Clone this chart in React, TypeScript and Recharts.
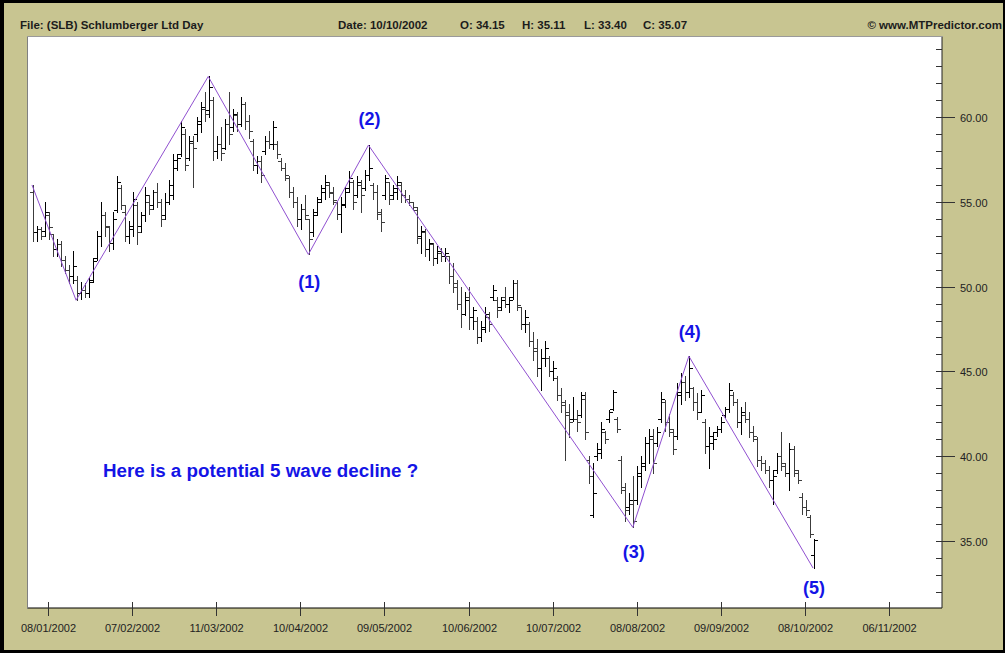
import React from 'react';
import { ComposedChart, Bar, Line, XAxis, YAxis, CartesianGrid, LabelList } from 'recharts';

// Daily OHLC of SLB, 2 Jan 2002 .. 10 Oct 2002 (index = trading day)
const highs = [
  56.0, 53.6, 53.5, 55.0, 54.4, 53.1, 52.8, 52.7, 51.8, 51.3,
  52.1, 50.6, 50.3, 50.2, 50.5, 51.7, 53.3, 55.0, 54.4, 53.6,
  54.4, 56.5, 56.0, 54.8, 53.9, 55.6, 55.0, 54.4, 55.9, 55.4,
  55.7, 56.1, 55.2, 55.5, 56.3, 57.8, 57.8, 59.8, 59.3, 58.9,
  58.9, 60.0, 60.9, 61.5, 62.4, 61.2, 58.9, 59.4, 59.9, 61.5,
  60.5, 60.3, 61.2, 60.9, 60.1, 58.7, 57.7, 57.7, 58.9, 59.2,
  59.8, 58.6, 57.6, 57.3, 56.5, 55.9, 55.3, 54.9, 55.4, 54.0,
  54.6, 55.3, 56.0, 56.6, 56.2, 55.9, 55.0, 55.3, 55.9, 56.8,
  56.3, 56.5, 56.3, 56.9, 58.35, 56.1, 56.0, 54.6, 56.6, 56.2,
  56.0, 56.5, 56.2, 55.7, 55.4, 55.0, 54.7, 53.6, 53.4, 52.8,
  52.6, 52.4, 52.3, 52.3, 51.8, 51.4, 50.4, 50.0, 49.7, 50.0,
  48.8, 48.2, 48.0, 48.8, 48.5, 50.1, 49.4, 49.4, 50.0, 49.4,
  50.4, 50.4, 48.8, 48.6, 47.9, 47.3, 46.9, 46.3, 46.8, 45.9,
  45.6, 44.7, 44.0, 43.3, 43.1, 43.5, 42.7, 43.8, 43.8, 40.0,
  39.6, 40.8, 42.0, 41.5, 42.7, 43.9, 42.3, 40.0, 38.4, 37.8,
  38.8, 39.4, 40.0, 41.1, 41.6, 41.6, 41.7, 43.8, 43.3, 42.5,
  41.6, 44.3, 44.9, 44.7, 45.9, 44.1, 43.7, 43.9, 42.2, 41.7,
  41.4, 41.8, 42.3, 42.9, 44.3, 43.8, 43.4, 42.9, 43.2, 42.6,
  41.8, 41.1, 40.0, 39.8, 39.4, 39.2, 40.2, 41.4, 39.6, 40.8,
  40.6, 39.2, 37.8, 37.4, 36.5, 35.11,
];
const lows = [
  52.7, 52.7, 52.8, 53.0, 52.8, 51.8, 51.8, 51.2, 50.8, 50.2,
  50.2, 49.2, 49.3, 49.4, 49.4, 50.3, 51.6, 52.4, 53.0, 52.1,
  52.2, 54.4, 54.6, 52.7, 52.6, 53.0, 52.5, 53.2, 53.9, 54.3,
  54.6, 54.7, 53.6, 54.0, 54.9, 55.2, 56.9, 57.7, 56.9, 57.5,
  55.9, 58.6, 59.1, 59.8, 60.0, 57.5, 57.6, 57.5, 58.1, 58.4,
  59.2, 59.2, 59.5, 59.3, 58.8, 56.9, 56.7, 56.2, 57.8, 58.2,
  58.1, 57.6, 56.9, 56.3, 55.3, 54.7, 53.6, 53.4, 54.0, 51.9,
  53.0, 54.2, 55.0, 55.2, 55.3, 54.9, 54.0, 53.2, 54.7, 55.6,
  54.6, 55.3, 54.4, 55.7, 56.3, 55.2, 54.0, 53.3, 55.2, 54.9,
  55.2, 55.2, 55.0, 55.0, 54.8, 54.6, 52.6, 52.0, 51.8, 51.6,
  51.3, 51.4, 51.5, 51.5, 50.2, 49.7, 48.7, 47.6, 48.3, 47.5,
  47.5, 46.7, 46.8, 47.3, 47.4, 49.2, 48.2, 48.6, 48.8, 48.5,
  49.3, 48.6, 47.5, 47.3, 46.5, 45.7, 44.7, 43.9, 45.3, 44.7,
  44.5, 43.3, 42.6, 39.8, 41.1, 42.1, 41.5, 42.3, 41.0, 38.4,
  36.4, 39.8, 39.9, 40.8, 42.0, 42.7, 41.4, 37.8, 36.2, 36.6,
  35.8, 37.2, 38.2, 39.2, 39.6, 39.0, 40.6, 42.0, 41.5, 41.2,
  40.1, 41.0, 43.1, 43.3, 43.5, 42.7, 42.2, 42.6, 40.2, 39.3,
  40.4, 41.2, 41.4, 42.3, 42.6, 43.0, 41.7, 41.3, 42.0, 41.1,
  40.9, 39.4, 39.2, 39.0, 38.2, 37.2, 39.0, 39.2, 38.8, 38.0,
  38.8, 38.4, 36.6, 36.5, 35.2, 33.40,
];
const opens = [
  55.6, 53.2, 53.4, 53.3, 54.2, 53.1, 52.2, 52.5, 51.6, 51.0,
  50.6, 50.4, 49.6, 49.8, 49.6, 50.4, 51.7, 53.0, 54.2, 53.5,
  52.6, 54.5, 55.8, 54.4, 53.0, 53.4, 54.8, 53.6, 54.2, 55.0,
  54.8, 55.6, 55.0, 54.2, 55.0, 55.4, 57.0, 57.8, 59.0, 57.6,
  58.5, 59.0, 59.6, 60.5, 60.4, 61.0, 58.0, 58.4, 58.2, 59.6,
  59.4, 60.1, 59.6, 60.8, 59.8, 58.6, 57.2, 57.4, 58.0, 58.6,
  58.4, 58.4, 57.4, 57.0, 56.4, 55.6, 55.0, 54.0, 54.6, 54.0,
  53.2, 54.4, 55.2, 55.6, 56.0, 55.6, 55.0, 54.3, 54.9, 55.8,
  56.2, 55.4, 56.0, 55.8, 56.6, 56.0, 55.6, 54.3, 55.4, 56.2,
  55.4, 55.6, 56.0, 55.4, 55.2, 55.0, 54.5, 53.0, 53.2, 52.2,
  52.5, 51.7, 52.0, 51.8, 51.8, 50.6, 50.2, 49.0, 48.4, 49.4,
  48.2, 48.0, 47.0, 47.5, 48.2, 49.4, 49.2, 48.8, 49.4, 49.0,
  49.4, 50.2, 48.8, 47.8, 47.8, 46.8, 46.4, 45.2, 45.8, 45.8,
  45.0, 44.6, 43.6, 43.0, 42.4, 42.2, 42.2, 42.4, 43.4, 39.8,
  36.5, 40.0, 40.2, 41.4, 42.2, 42.8, 42.2, 39.8, 38.0, 37.0,
  37.2, 37.4, 38.8, 39.4, 40.8, 41.0, 40.8, 42.2, 43.2, 42.0,
  41.4, 41.2, 43.6, 44.4, 43.8, 44.0, 43.2, 42.6, 42.0, 40.6,
  40.8, 41.4, 41.6, 42.4, 42.8, 43.6, 43.2, 42.0, 42.4, 42.2,
  41.4, 41.0, 39.8, 39.6, 39.2, 38.6, 39.2, 40.0, 39.4, 39.0,
  40.4, 39.0, 37.6, 37.0, 36.4, 34.15,
];
const closes = [
  53.2, 53.4, 53.0, 54.4, 53.5, 52.2, 52.5, 51.6, 51.0, 50.6,
  51.2, 49.6, 49.8, 49.6, 50.3, 51.5, 53.0, 54.2, 53.6, 52.6,
  54.0, 56.2, 54.8, 53.0, 53.6, 55.2, 53.2, 54.2, 55.4, 54.6,
  55.6, 55.0, 54.0, 55.0, 56.0, 57.5, 57.6, 59.4, 57.2, 58.6,
  58.2, 59.8, 60.6, 60.2, 61.8, 58.0, 58.4, 57.9, 59.6, 59.0,
  60.2, 59.6, 60.8, 59.8, 59.2, 57.2, 57.4, 56.6, 58.6, 58.4,
  59.4, 57.8, 57.0, 56.6, 55.6, 55.0, 54.0, 54.6, 54.2, 52.8,
  54.2, 55.0, 55.8, 56.2, 55.5, 55.1, 54.3, 54.8, 55.6, 56.4,
  55.0, 56.2, 55.4, 56.6, 57.0, 55.6, 54.4, 53.8, 56.4, 55.2,
  55.8, 56.2, 55.4, 55.2, 55.0, 54.7, 52.9, 53.3, 52.2, 52.6,
  51.7, 52.1, 51.8, 52.0, 50.6, 50.0, 49.0, 48.4, 49.2, 48.2,
  48.6, 47.0, 47.6, 48.4, 47.8, 49.8, 48.6, 49.2, 49.0, 49.2,
  50.2, 48.9, 47.8, 48.2, 46.8, 46.2, 45.2, 45.8, 46.4, 45.0,
  45.2, 43.6, 43.2, 42.6, 42.0, 42.2, 42.0, 43.6, 41.4, 38.8,
  37.8, 40.4, 41.6, 41.0, 42.6, 43.8, 41.6, 38.2, 36.8, 37.4,
  36.2, 39.0, 39.6, 40.8, 41.2, 39.6, 41.4, 43.4, 42.0, 41.6,
  40.4, 43.8, 44.4, 43.8, 45.2, 43.2, 42.6, 43.6, 40.6, 41.2,
  41.0, 41.6, 42.0, 42.8, 43.9, 43.2, 42.0, 42.6, 42.2, 41.4,
  41.2, 39.8, 39.6, 39.2, 38.6, 38.8, 40.0, 39.6, 39.0, 40.4,
  39.2, 38.6, 37.0, 36.8, 35.4, 35.07,
];

const xTickIdx = [4, 25, 46, 67, 88, 109, 130, 151, 172, 193, 214];
const xTickLabels = [
  '08/01/2002', '07/02/2002', '11/03/2002', '10/04/2002', '09/05/2002', '10/06/2002',
  '10/07/2002', '08/08/2002', '09/09/2002', '08/10/2002', '06/11/2002',
];
const yTicks = [32, 33, 34, 35, 36, 37, 38, 39, 40, 41, 42, 43, 44, 45, 46, 47, 48, 49, 50, 51, 52, 53, 54, 55, 56, 57, 58, 59, 60, 61, 62, 63, 64];
const yMajor = [35, 40, 45, 50, 55, 60];

const waveIdx = [0, 11, 44, 69, 84, 150, 164, 195];
const wavePrice = [56.0, 49.2, 62.4, 51.9, 58.35, 35.8, 45.9, 33.4];
const waveLabels = ['', '', '', '(1)', '(2)', '(3)', '(4)', '(5)'];

// label placement (styling, not data): vertical offset of each wave label baseline from its pivot
const waveLabelDy = [0, 0, 0, 34, -20, 31, -18, 26];

const barData = highs.map((h, i) => ({
  i,
  range: [lows[i], h],
  h,
  l: lows[i],
  o: opens[i],
  c: closes[i],
}));
const waveData = waveIdx.map((i, k) => ({ i, v: wavePrice[k], label: waveLabels[k] }));

const KHAKI = '#C8C591';
const BLUE = '#1414E6';
const FONT = 'Liberation Sans, Arial, sans-serif';

const OhlcShape = (props: any) => {
  const { x, y, width, height, payload } = props;
  if (x == null || y == null || !payload) return null;
  const top = Math.min(y, y + height);
  const hgt = Math.abs(height);
  const { h, l, o, c } = payload;
  const per = h - l > 0 ? hgt / (h - l) : 0;
  const cx = Math.round(x + width / 2) + 0.5;
  const yo = Math.round(top + (h - o) * per) + 0.5;
  const yc = Math.round(top + (h - c) * per) + 0.5;
  const color = c >= o ? '#000000' : '#3c3c3c';
  return (
    <g stroke={color} strokeWidth={1}>
      <line x1={cx} x2={cx} y1={Math.round(top)} y2={Math.round(top + hgt) + 1} />
      <line x1={cx - 3.5} x2={cx} y1={yo} y2={yo} />
      <line x1={cx} x2={cx + 3.5} y1={yc} y2={yc} />
    </g>
  );
};

const YTick = (props: any) => {
  const { x, y, payload } = props;
  const v = payload.value;
  const major = yMajor.includes(v);
  const yy = Math.round(y) + 0.5;
  return (
    <g>
      <line x1={x - 6} x2={major ? x + 13 : x} y1={yy} y2={yy} stroke="#333" strokeWidth={1} />
      {major && (
        <text x={x + 18} y={yy + 4} fontSize={11} fontFamily={FONT} fill="#222">
          {v.toFixed(2)}
        </text>
      )}
    </g>
  );
};

const XTick = (props: any) => {
  const { x, y, payload } = props;
  const k = xTickIdx.indexOf(payload.value);
  const xx = Math.round(x) + 0.5;
  return (
    <g>
      <line x1={xx} x2={xx} y1={y - 6} y2={y + 8} stroke="#333" strokeWidth={1} />
      <text x={xx} y={y + 24} textAnchor="middle" fontSize={11} fontFamily={FONT} fill="#222">
        {k >= 0 ? xTickLabels[k] : ''}
      </text>
    </g>
  );
};

const WaveLabel = (props: any) => {
  const { x, y, value, index } = props;
  if (!value) return null;
  return (
    <text x={x + 1} y={y + waveLabelDy[index]} textAnchor="middle" fontSize={18} fontWeight="bold" fontFamily={FONT} fill={BLUE}>
      {value}
    </text>
  );
};

const hdr: React.CSSProperties = {
  position: 'absolute',
  top: 19,
  fontFamily: FONT,
  fontSize: 11.5,
  fontWeight: 'bold',
  color: '#1c1c1c',
  lineHeight: '12px',
  whiteSpace: 'pre',
};

export default function App() {
  return (
    <div style={{ position: 'absolute', left: 0, top: 0, width: 1005, height: 653, background: KHAKI, overflow: 'hidden' }}>
      <ComposedChart width={1005} height={653} data={barData} margin={{ top: 37, left: 28, right: 3, bottom: 15 }}>
        <CartesianGrid fill="#ffffff" horizontal={false} vertical={false} stroke="none" />
        <XAxis
          dataKey="i"
          type="number"
          domain={[-1, 227.2]}
          allowDataOverflow
          ticks={xTickIdx}
          interval={0}
          tickLine={false}
          tickSize={0}
          tickMargin={0}
          height={30}
          axisLine={{ stroke: '#000' }}
          tick={<XTick />}
        />
        <YAxis
          orientation="right"
          type="number"
          domain={[31.04, 64.73]}
          allowDataOverflow
          ticks={yTicks}
          interval={0}
          tickLine={false}
          tickSize={0}
          tickMargin={0}
          width={60}
          axisLine={{ stroke: '#222' }}
          tick={<YTick />}
        />
        <Bar dataKey="range" barSize={3} shape={<OhlcShape />} isAnimationActive={false} />
        <Line
          data={waveData}
          dataKey="v"
          type="linear"
          stroke="#9050D0"
          strokeWidth={1}
          dot={false}
          activeDot={false}
          isAnimationActive={false}
        >
          <LabelList dataKey="label" content={<WaveLabel />} />
        </Line>
      </ComposedChart>

      {/* plot frame left/top */}
      <div style={{ position: 'absolute', left: 27, top: 36, width: 1, height: 573, background: '#808080' }} />
      <div style={{ position: 'absolute', left: 27, top: 36, width: 916, height: 1, background: '#9a9a9a' }} />

      <div style={{ position: 'absolute', left: 103, top: 460, fontFamily: FONT, fontSize: 18.8, lineHeight: '22px', fontWeight: 'bold', color: BLUE, whiteSpace: 'pre' }}>
        Here is a potential 5 wave decline ?
      </div>

      <div style={{ ...hdr, left: 20 }}>File: (SLB) Schlumberger Ltd Day</div>
      <div style={{ ...hdr, left: 338 }}>Date: 10/10/2002</div>
      <div style={{ ...hdr, left: 460 }}>O: 34.15</div>
      <div style={{ ...hdr, left: 522 }}>H: 35.11</div>
      <div style={{ ...hdr, left: 584 }}>L: 33.40</div>
      <div style={{ ...hdr, left: 643 }}>C: 35.07</div>
      <div style={{ ...hdr, right: 3 }}>© www.MTPredictor.com</div>

      {/* outer frame */}
      <div style={{ position: 'absolute', left: 0, top: 0, width: 4, height: 653, background: '#000' }} />
      <div style={{ position: 'absolute', left: 0, top: 0, width: 1005, height: 3, background: '#000' }} />
      <div style={{ position: 'absolute', right: 0, top: 0, width: 2, height: 653, background: '#000' }} />
      <div style={{ position: 'absolute', left: 0, bottom: 0, width: 1005, height: 3, background: '#000' }} />
    </div>
  );
}
